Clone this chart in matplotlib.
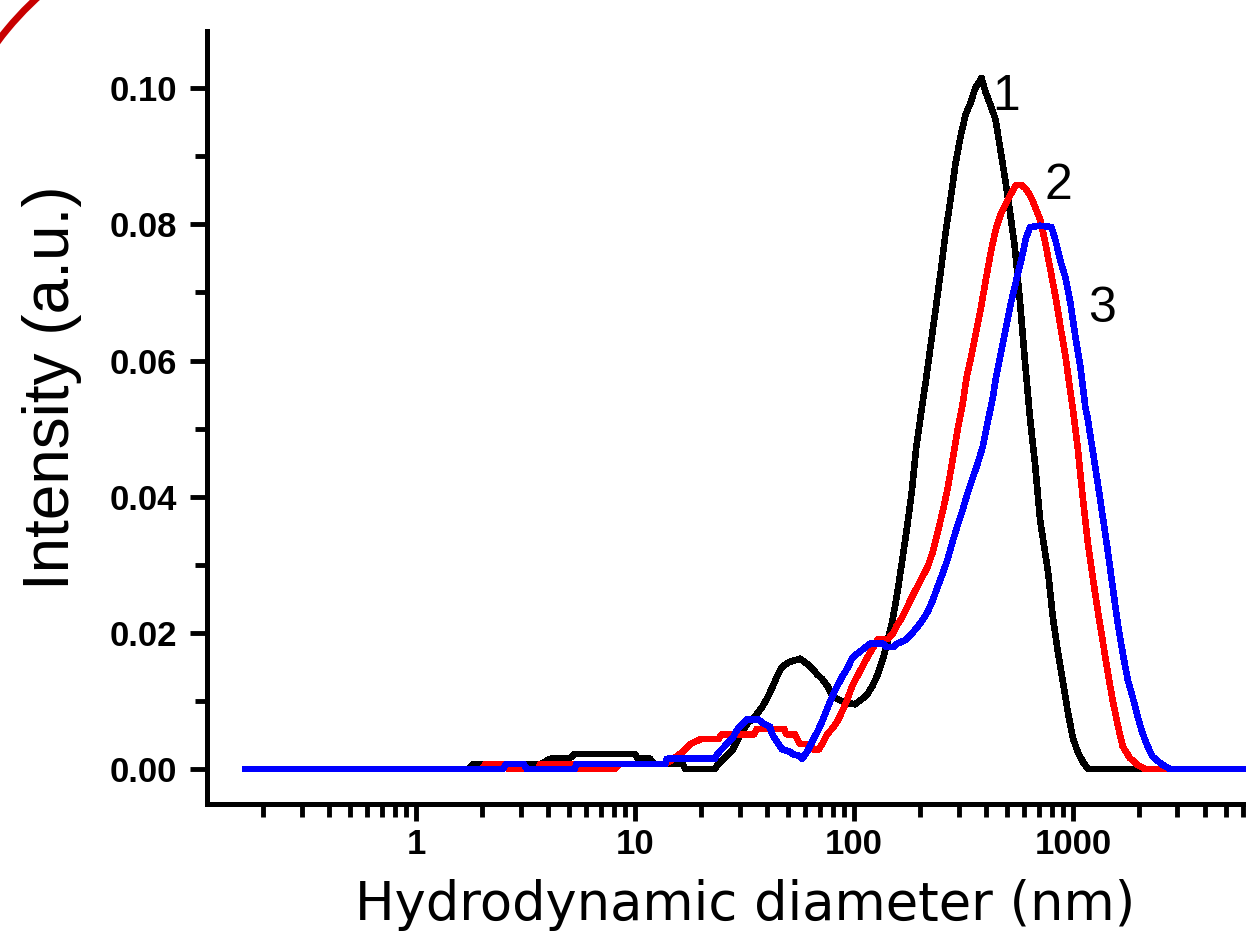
import numpy as np
import matplotlib
matplotlib.use('Agg')
import matplotlib.pyplot as plt
from matplotlib.patches import Arc
from matplotlib.ticker import LogLocator, MultipleLocator, NullFormatter

# 粒径 (nm) 与强度
black_d = [0.166, 1.74, 1.82, 3.7, 4.1, 5.0, 5.3, 10.0, 10.3, 11.7,
           12.3, 16.5, 17.0, 23.2, 23.9, 25.2, 26.6, 28.0, 29.5, 30.8,
           32.6, 34.5, 36.5, 38.4, 40.4, 42.5, 44.5, 46.9, 50.5, 56.6,
           61.2, 64.6, 67.9, 71.6, 75.9, 80.0, 86.3, 92.9, 101, 109,
           115, 121, 128, 135, 141, 150, 157, 166, 175, 184,
           192, 202, 213, 224, 237, 249, 262, 276, 291, 307,
           323, 340, 358, 382, 398, 420, 442, 466, 490, 515,
           543, 573, 604, 637, 670, 708, 769, 811, 855, 899,
           948, 1000, 1054, 1112, 1169, 6166]
black_i = [0, 0, 0.0007, 0.0007, 0.0015, 0.0015, 0.0022, 0.0022, 0.0015, 0.0015,
           0.0007, 0.0007, 0, 0, 0.0007, 0.0014, 0.0022, 0.0029, 0.0044, 0.0055,
           0.0067, 0.0074, 0.0083, 0.0093, 0.0106, 0.0121, 0.0136, 0.0150, 0.0157, 0.0162,
           0.0154, 0.0147, 0.0139, 0.0132, 0.0121, 0.0106, 0.0101, 0.0097, 0.0095, 0.0103,
           0.0110, 0.0121, 0.0138, 0.0160, 0.0182, 0.0219, 0.0255, 0.0306, 0.0357, 0.0410,
           0.0470, 0.0521, 0.0571, 0.0623, 0.0680, 0.0731, 0.0788, 0.0837, 0.0890, 0.0930,
           0.0961, 0.0978, 0.1000, 0.1015, 0.0995, 0.0975, 0.0955, 0.0910, 0.0866, 0.0819,
           0.0765, 0.0685, 0.0597, 0.0514, 0.0450, 0.0365, 0.0290, 0.0220, 0.0170, 0.0128,
           0.0083, 0.0045, 0.0024, 0.0010, 0, 0]

red_d = [0.166, 2.0, 2.07, 2.55, 2.65, 3.6, 3.68, 5.32, 5.5, 8.1,
         8.5, 13.7, 15.0, 16.0, 17.0, 18.0, 20.0, 24.0, 25.0, 35.0,
         36.0, 47.9, 49.0, 53.6, 55.0, 56.6, 63.1, 64.5, 69.2, 71.6,
         75.3, 79.4, 83.6, 88.1, 92.9, 97.9, 103, 109, 115, 121,
         129, 143, 150, 157, 166, 175, 184, 194, 205, 217,
         229, 241, 254, 268, 282, 297, 313, 327, 345, 362,
         380, 401, 423, 445, 469, 494, 521, 550, 582, 610,
         643, 676, 713, 750, 791, 834, 877, 925, 975, 1000,
         1050, 1107, 1167, 1230, 1297, 1368, 1439, 1517, 1600, 1687,
         1820, 1972, 2133, 6166]
red_i = [0, 0, 0.0007, 0.0007, 0, 0, 0.0007, 0.0007, 0, 0,
         0.0007, 0.0007, 0.0015, 0.0022, 0.0029, 0.0037, 0.0044, 0.0044, 0.0051, 0.0051,
         0.0059, 0.0059, 0.0051, 0.0051, 0.0044, 0.0037, 0.0037, 0.0029, 0.0029, 0.0037,
         0.0051, 0.0059, 0.0069, 0.0084, 0.0101, 0.0121, 0.0135, 0.0150, 0.0164, 0.0176,
         0.0191, 0.0191, 0.0198, 0.0211, 0.0223, 0.0238, 0.0253, 0.0267, 0.0282, 0.0297,
         0.0319, 0.0348, 0.0378, 0.0413, 0.0454, 0.0498, 0.0535, 0.0576, 0.0610, 0.0644,
         0.0678, 0.0721, 0.0762, 0.0794, 0.0816, 0.0830, 0.0845, 0.0858, 0.0858, 0.0852,
         0.0840, 0.0823, 0.0804, 0.0770, 0.0731, 0.0692, 0.0649, 0.0605, 0.0552, 0.0527,
         0.0473, 0.0400, 0.0334, 0.0282, 0.0233, 0.0187, 0.0143, 0.0101, 0.0065, 0.0033,
         0.0016, 0.0006, 0, 0]

blue_d = [0.166, 2.5, 2.57, 3.1, 3.2, 5.3, 5.4, 13.7, 14.0, 23.2,
          23.7, 24.9, 26.3, 27.7, 29.2, 30.8, 32.4, 36.5, 38.0, 41.3,
          42.3, 44.5, 46.9, 51.1, 52.1, 56.6, 57.9, 61.0, 64.3, 67.8,
          71.4, 75.3, 79.4, 83.6, 88.1, 92.9, 97.9, 103, 110, 118,
          136, 141, 151, 157, 171, 184, 195, 206, 217, 229,
          241, 254, 268, 282, 297, 313, 330, 348, 367, 387,
          407, 430, 445, 469, 494, 521, 550, 579, 610, 637,
          708, 797, 834, 877, 925, 975, 1026, 1081, 1138, 1167,
          1199, 1230, 1297, 1368, 1439, 1517, 1600, 1687, 1778, 1871,
          1972, 2080, 2193, 2312, 2541, 2773, 6166]
blue_i = [0, 0, 0.0007, 0.0007, 0, 0, 0.0007, 0.0007, 0.0015, 0.0015,
          0.0022, 0.0029, 0.0037, 0.0044, 0.0057, 0.0066, 0.0073, 0.0073, 0.0068, 0.0062,
          0.0051, 0.0040, 0.0029, 0.0025, 0.0022, 0.0019, 0.0015, 0.0025, 0.0040, 0.0054,
          0.0069, 0.0088, 0.0106, 0.0121, 0.0135, 0.0147, 0.0162, 0.0169, 0.0176, 0.0184,
          0.0184, 0.0179, 0.0179, 0.0184, 0.0189, 0.0199, 0.0209, 0.0219, 0.0231, 0.0248,
          0.0268, 0.0287, 0.0309, 0.0334, 0.0358, 0.0380, 0.0405, 0.0427, 0.0449, 0.0473,
          0.0508, 0.0545, 0.0575, 0.0612, 0.0648, 0.0685, 0.0717, 0.0746, 0.0780, 0.0796,
          0.0798, 0.0796, 0.0775, 0.0746, 0.0721, 0.0683, 0.0634, 0.0590, 0.0532, 0.0515,
          0.0490, 0.0468, 0.0420, 0.0370, 0.0322, 0.0268, 0.0214, 0.0170, 0.0131, 0.0106,
          0.0077, 0.0052, 0.0033, 0.0018, 0.0007, 0, 0]

# 曲线编号的位置 (nm, 强度)
curve_names = ['1', '2', '3']
name_d = [494, 855, 1356]
name_i = [0.0968, 0.0837, 0.0656]

x_ticks = [1, 10, 100, 1000]
x_tick_labels = ['1', '10', '100', '1000']
y_ticks = [0, 0.02, 0.04, 0.06, 0.08, 0.10]
y_tick_labels = ['0.00', '0.02', '0.04', '0.06', '0.08', '0.10']

W, H = 1246, 931
fig = plt.figure(figsize=(W / 100, H / 100), dpi=100)
ax = fig.add_axes([207 / W, 1 - 803.5 / H, 1 - 207 / W, (803.5 - 31) / H])

# 画三条曲线 (原图是无抗锯齿的粗线)
ax.plot(black_d, black_i, color='black', lw=4, antialiased=False)
ax.plot(red_d, red_i, color='#ff0000', lw=4, antialiased=False)
ax.plot(blue_d, blue_i, color='#0000ff', lw=4, antialiased=False)

for name, d, i in zip(curve_names, name_d, name_i):
    ax.text(d, i, name, fontsize=36, family='Liberation Sans',
            ha='center', va='baseline', color='black')

ax.set_xscale('log')
ax.set_xlim(0.111, 6166)
ax.set_ylim(-0.00507, 0.1084)

ax.set_xticks(x_ticks)
ax.set_xticklabels(x_tick_labels)
ax.xaxis.set_minor_locator(LogLocator(base=10, subs=[2, 3, 4, 5, 6, 7, 8, 9], numticks=20))
ax.xaxis.set_minor_formatter(NullFormatter())
ax.set_yticks(y_ticks)
ax.set_yticklabels(y_tick_labels)
ax.yaxis.set_minor_locator(MultipleLocator(0.01))

for side in ['top', 'right']:
    ax.spines[side].set_visible(False)
for side in ['left', 'bottom']:
    ax.spines[side].set_linewidth(3.6)

ax.tick_params(which='major', length=12.5, width=3.5, direction='out')
ax.tick_params(which='minor', length=9, width=3.5, direction='out')
ax.tick_params(axis='y', pad=9)
ax.tick_params(axis='x', pad=5)
for lab in ax.get_xticklabels() + ax.get_yticklabels():
    lab.set_fontfamily('Liberation Sans')
    lab.set_fontweight('bold')
    lab.set_fontsize(25)

# 坐标轴标题
fig.text(52 / W, 1 - 388 / H, 'Intensity (a.u.)', rotation=90, fontsize=46,
         family='Liberation Sans', ha='center', va='center')
fig.text(745 / W, 1 - 920 / H, 'Hydrodynamic diameter (nm)', fontsize=38,
         family='DejaVu Sans', ha='center', va='baseline')

# 左上角的红色圆弧
fig.add_artist(Arc((250 / W, 1 - 230 / H), 2 * 315 / W, 2 * 315 / H,
                   theta1=110, theta2=160, transform=fig.transFigure,
                   color='#c80000', lw=5))

fig.savefig('out.png', dpi=100)
